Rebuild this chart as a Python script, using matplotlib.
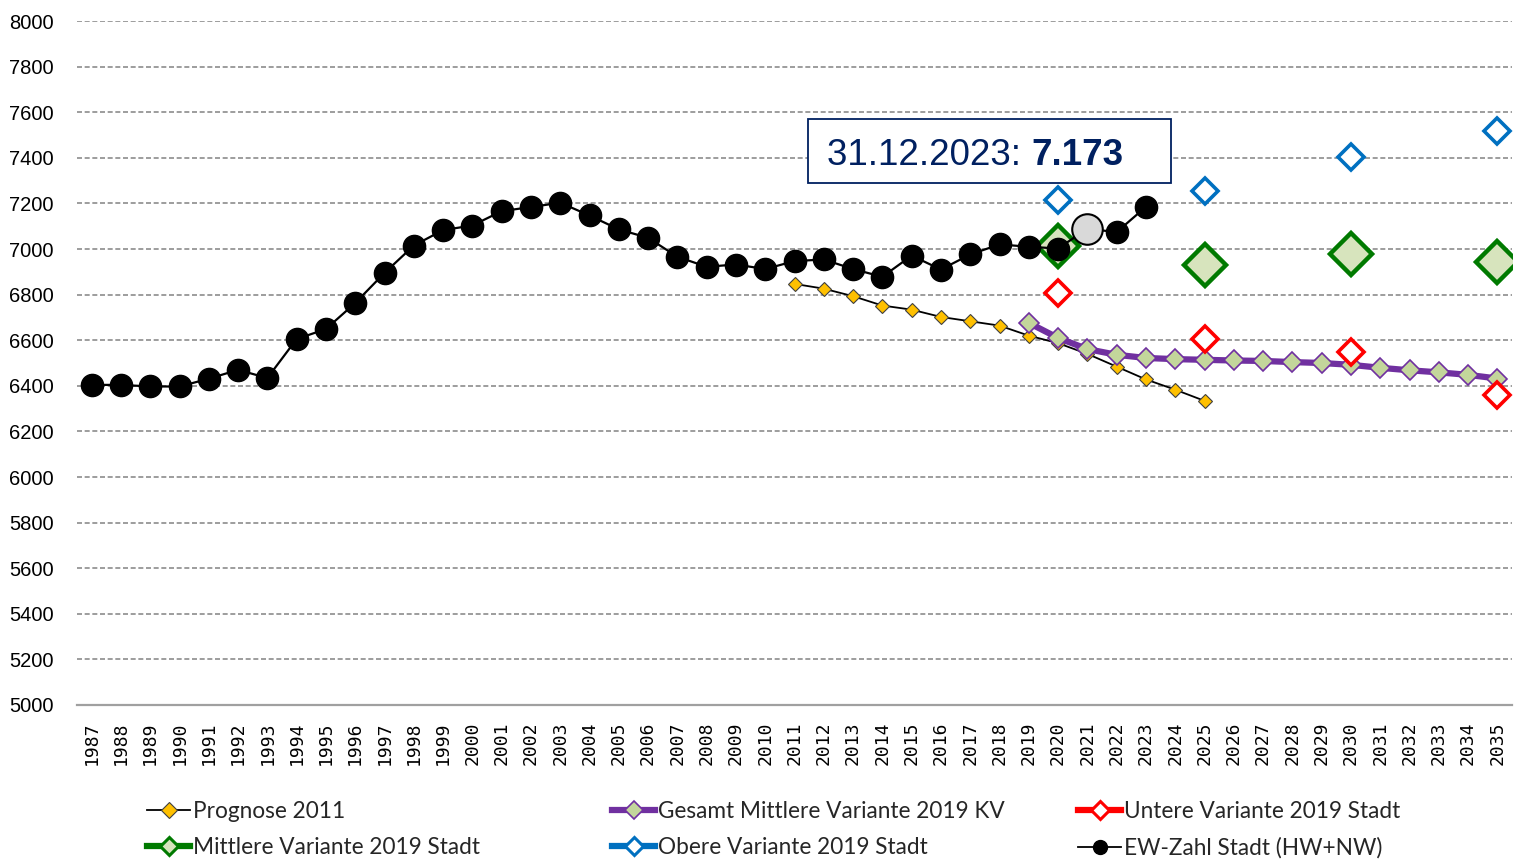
import matplotlib
matplotlib.use("Agg")
import matplotlib.pyplot as plt
from matplotlib.lines import Line2D
from matplotlib.patches import Rectangle

# ---------------- data ----------------
years_all = list(range(1987, 2036))

ew_years = list(range(1987, 2024))
ew_values = [6404, 6404, 6397, 6397, 6431, 6470, 6434, 6605, 6649, 6763,
             6895, 7015, 7083, 7103, 7166, 7184, 7203, 7147, 7086, 7049,
             6966, 6922, 6932, 6912, 6947, 6954, 6912, 6878, 6971, 6910,
             6976, 7020, 7010, 7002, 7089, 7074, 7185]
ew_highlight_year = 2021

prog_years = list(range(2011, 2026))
prog_values = [6847, 6826, 6793, 6752, 6734, 6702, 6683, 6664, 6620, 6587,
               6540, 6484, 6428, 6383, 6334]

kv_years = list(range(2019, 2036))
kv_values = [6676, 6610, 6561, 6536, 6522, 6517, 6514, 6511, 6509, 6504,
             6500, 6492, 6479, 6468, 6459, 6448, 6432]

var_years = [2020, 2025, 2030, 2035]
untere_values = [6806, 6604, 6547, 6360]
mittlere_values = [7013, 6930, 6980, 6942]
obere_values = [7214, 7254, 7404, 7518]

annot_text = "31.12.2023: "
annot_bold = "7.173"

legend_labels = ["Prognose 2011", "Gesamt Mittlere Variante 2019 KV",
                 "Untere Variante 2019 Stadt", "Mittlere Variante 2019 Stadt",
                 "Obere Variante 2019 Stadt", "EW-Zahl Stadt (HW+NW)"]

# ---------------- colors ----------------
c_yellow = "#ffc000"
c_purple = "#7030a0"
c_lgreen = "#d7e4bd"
c_kvfill = "#c3d69b"
c_green = "#007a00"
c_blue = "#0070c0"
c_red = "#ff0000"
c_navy = "#002060"

fig = plt.figure(figsize=(15.19, 8.61), dpi=100)
ax = fig.add_axes([77/1519, 1-705/861, (1512-77)/1519, (705-21)/861])

# Prognose 2011
ax.plot(prog_years, prog_values, color="black", lw=1.3, marker="D", ms=7.5,
        mfc=c_yellow, mec="#404040", mew=0.8, zorder=3)
# KV
ax.plot(kv_years, kv_values, color=c_purple, lw=4.5, marker="D", ms=10.5,
        mfc=c_kvfill, mec=c_purple, mew=1.2, zorder=4)
# Untere
ax.plot(var_years, untere_values, ls="none", marker="D", ms=13, mfc="white",
        mec=c_red, mew=2.6, zorder=5)
# Mittlere
ax.plot(var_years, mittlere_values, ls="none", marker="D", ms=21, mfc=c_lgreen,
        mec=c_green, mew=3.2, zorder=5)
# Obere
ax.plot(var_years, obere_values, ls="none", marker="D", ms=13, mfc="white",
        mec=c_blue, mew=2.6, zorder=5)
# EW-Zahl
ax.plot(ew_years, ew_values, color="black", lw=1.6, marker="o", ms=16,
        mfc="black", mec="black", zorder=6)
hi = ew_years.index(ew_highlight_year)
ax.plot([ew_years[hi]], [ew_values[hi]], ls="none", marker="o", ms=22,
        mfc="#d9d9d9", mec="black", mew=1.5, zorder=7)

# axes styling
ax.set_xlim(1986.5, 2035.5)
ax.set_ylim(5000, 8000)
ax.set_yticks(range(5000, 8001, 200))
ax.set_xticks(years_all)
ax.set_xticklabels([str(y) for y in years_all], rotation=90,
                   family="DejaVu Sans Mono", fontsize=13)
for lbl in ax.get_yticklabels():
    lbl.set_family("Liberation Sans")
    lbl.set_fontsize(14.5)
ax.tick_params(axis="y", length=0, pad=17)
ax.tick_params(axis="x", length=0, pad=12)
ax.yaxis.grid(True, linestyle=(0, (3, 1.6)), color="#8c8c8c", lw=1.2)
ax.set_axisbelow(True)
for s in ["left", "right", "top"]:
    ax.spines[s].set_visible(False)
ax.spines["bottom"].set_color("#a0a0a0")
ax.spines["bottom"].set_linewidth(1.6)
ax.spines["bottom"].set_zorder(1)

# annotation box
box = Rectangle((2011.46, 7290), 2023.86 - 2011.46, 7570 - 7290,
                facecolor="white", edgecolor=c_navy, lw=1.3, zorder=8)
ax.add_patch(box)
t1 = ax.text(2012.1, 7408, annot_text, family="Liberation Sans", fontsize=26.5,
             color=c_navy, va="center", ha="left", zorder=9)
fig.canvas.draw()
bb = t1.get_window_extent()
x_end = ax.transData.inverted().transform((bb.x1, bb.y0))[0]
ax.text(x_end, 7408, annot_bold, family="Liberation Sans", fontsize=26.5,
        fontweight="bold", color=c_navy, va="center", ha="left", zorder=9)

# legend (3 columns with equal widths, placed separately)
def h(color, lw, marker, ms, mfc, mec, mew=1.5):
    return Line2D([], [], color=color, lw=lw, marker=marker, ms=ms, mfc=mfc,
                  mec=mec, mew=mew)

handles = [
    h("black", 1.3, "D", 8, c_yellow, "#404040", 0.8),
    h(c_purple, 4.5, "D", 9, c_kvfill, c_purple, 1.2),
    h(c_red, 4.5, "D", 9, "white", c_red, 2.2),
    h(c_green, 4.5, "D", 9, c_lgreen, c_green, 2.2),
    h(c_blue, 4.5, "D", 9, "white", c_blue, 2.2),
    h("black", 1.3, "o", 10, "black", "black", 1),
]
col_x = [147/1519, 612/1519, 1078/1519]
for c in range(3):
    idx = [c, c + 3]
    leg = fig.legend([handles[i] for i in idx], [legend_labels[i] for i in idx],
                     loc="upper left", bbox_to_anchor=(col_x[c], 1-801/861),
                     frameon=False, prop={"family": "Lato", "size": 16.3},
                     handlelength=1.9, handletextpad=0.12, labelspacing=0.68,
                     borderpad=0, borderaxespad=0)
    for t in leg.get_texts():
        t.set_color("#262626")

fig.savefig("out.png", dpi=100)
